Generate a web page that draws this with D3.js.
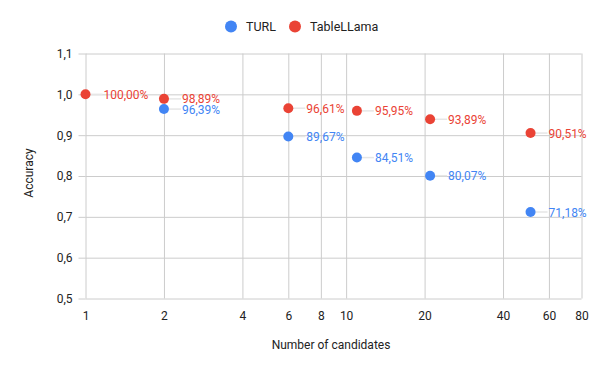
<!DOCTYPE html>
<html>
<head>
<meta charset="utf-8">
<script src="https://cdn.jsdelivr.net/npm/d3@7"></script>
<style>
  body { margin: 0; background: #fff; }
  text { font-family: Roboto, "Noto Sans", sans-serif; }
</style>
</head>
<body>
<div id="chart"></div>
<script>
// data
const candidates = [1, 2, 6, 11, 21, 51];
const turlX = [2, 6, 11, 21, 51];
const turlAccuracy = [0.9639, 0.8967, 0.8451, 0.8007, 0.7118];
const tableLlamaX = [1, 2, 6, 11, 21, 51];
const tableLlamaAccuracy = [1.0, 0.9889, 0.9661, 0.9595, 0.9389, 0.9051];
const xTicks = [1, 2, 4, 6, 8, 10, 20, 40, 60, 80];
const yTicks = [0.5, 0.6, 0.7, 0.8, 0.9, 1.0, 1.1];

const TURL_COLOR = "#4285f4";
const LLAMA_COLOR = "#ea4335";

const width = 600, height = 371;
const plot = {left: 85.5, right: 581.5, top: 53.5, bottom: 298.5};

const svg = d3.select("#chart").append("svg")
  .attr("width", width)
  .attr("height", height);

const x = d3.scaleLog().domain([1, 80]).range([plot.left, plot.right]);
const y = d3.scaleLinear().domain([0.5, 1.1]).range([plot.bottom, plot.top]);

const commaFmt = v => d3.format(".1f")(v).replace(".", ",");
const pctFmt = v => d3.format(".2f")(v * 100).replace(".", ",") + "%";

// horizontal grid + left ticks
const yAxis = svg.append("g")
  .attr("transform", `translate(${plot.left},0)`)
  .call(d3.axisLeft(y).tickValues(yTicks).tickFormat(commaFmt)
    .tickSize(7).tickPadding(6));
yAxis.select(".domain").remove();
yAxis.selectAll("line").attr("stroke", "#cccccc");
yAxis.selectAll(".tick").append("line")
  .attr("x1", 0).attr("x2", plot.right - plot.left)
  .attr("stroke", "#cccccc");
yAxis.selectAll("text")
  .attr("fill", "#222").style("font-size", "12px");

// vertical grid + bottom labels
const xAxis = svg.append("g")
  .attr("transform", `translate(0,${plot.bottom})`)
  .call(d3.axisBottom(x).tickValues(xTicks).tickFormat(d3.format("d"))
    .tickSize(0).tickPadding(13));
xAxis.select(".domain").remove();
xAxis.selectAll(".tick").append("line")
  .attr("y1", 0).attr("y2", plot.top - plot.bottom)
  .attr("stroke", "#cccccc");
xAxis.selectAll("text")
  .attr("fill", "#222").style("font-size", "12px");

// axis titles
svg.append("text")
  .attr("x", 331).attr("y", 349)
  .attr("text-anchor", "middle")
  .attr("fill", "#222").style("font-size", "12px")
  .text("Number of candidates");

svg.append("text")
  .attr("transform", "translate(33,173) rotate(-90)")
  .attr("text-anchor", "middle")
  .attr("fill", "#222").style("font-size", "12px")
  .text("Accuracy");

function drawSeries(xs, ys, color) {
  const pts = xs.map((d, i) => ({x: d, y: ys[i]}));
  const g = svg.append("g");
  g.selectAll(".stem").data(pts).enter().append("line")
    .attr("x1", d => x(d.x) + 4)
    .attr("x2", d => x(d.x) + 17)
    .attr("y1", d => y(d.y)).attr("y2", d => y(d.y))
    .attr("stroke", "#e6e6e6").attr("stroke-width", 1.5);
  g.selectAll("circle").data(pts).enter().append("circle")
    .attr("cx", d => x(d.x)).attr("cy", d => y(d.y))
    .attr("r", 5).attr("fill", color);
  g.selectAll(".lbl").data(pts).enter().append("text")
    .attr("x", d => x(d.x) + 18)
    .attr("y", d => y(d.y) + 4.5)
    .attr("fill", color).style("font-size", "12px")
    .text(d => pctFmt(d.y));
}

drawSeries(turlX, turlAccuracy, TURL_COLOR);
drawSeries(tableLlamaX, tableLlamaAccuracy, LLAMA_COLOR);

// legend
const legend = svg.append("g");
[["TURL", TURL_COLOR, 231], ["TableLLama", LLAMA_COLOR, 295]].forEach(([name, color, cx]) => {
  legend.append("circle").attr("cx", cx).attr("cy", 26.5).attr("r", 6).attr("fill", color);
  legend.append("text").attr("x", cx + 15).attr("y", 31)
    .attr("fill", "#222").style("font-size", "12.5px").text(name);
});
</script>
</body>
</html>
